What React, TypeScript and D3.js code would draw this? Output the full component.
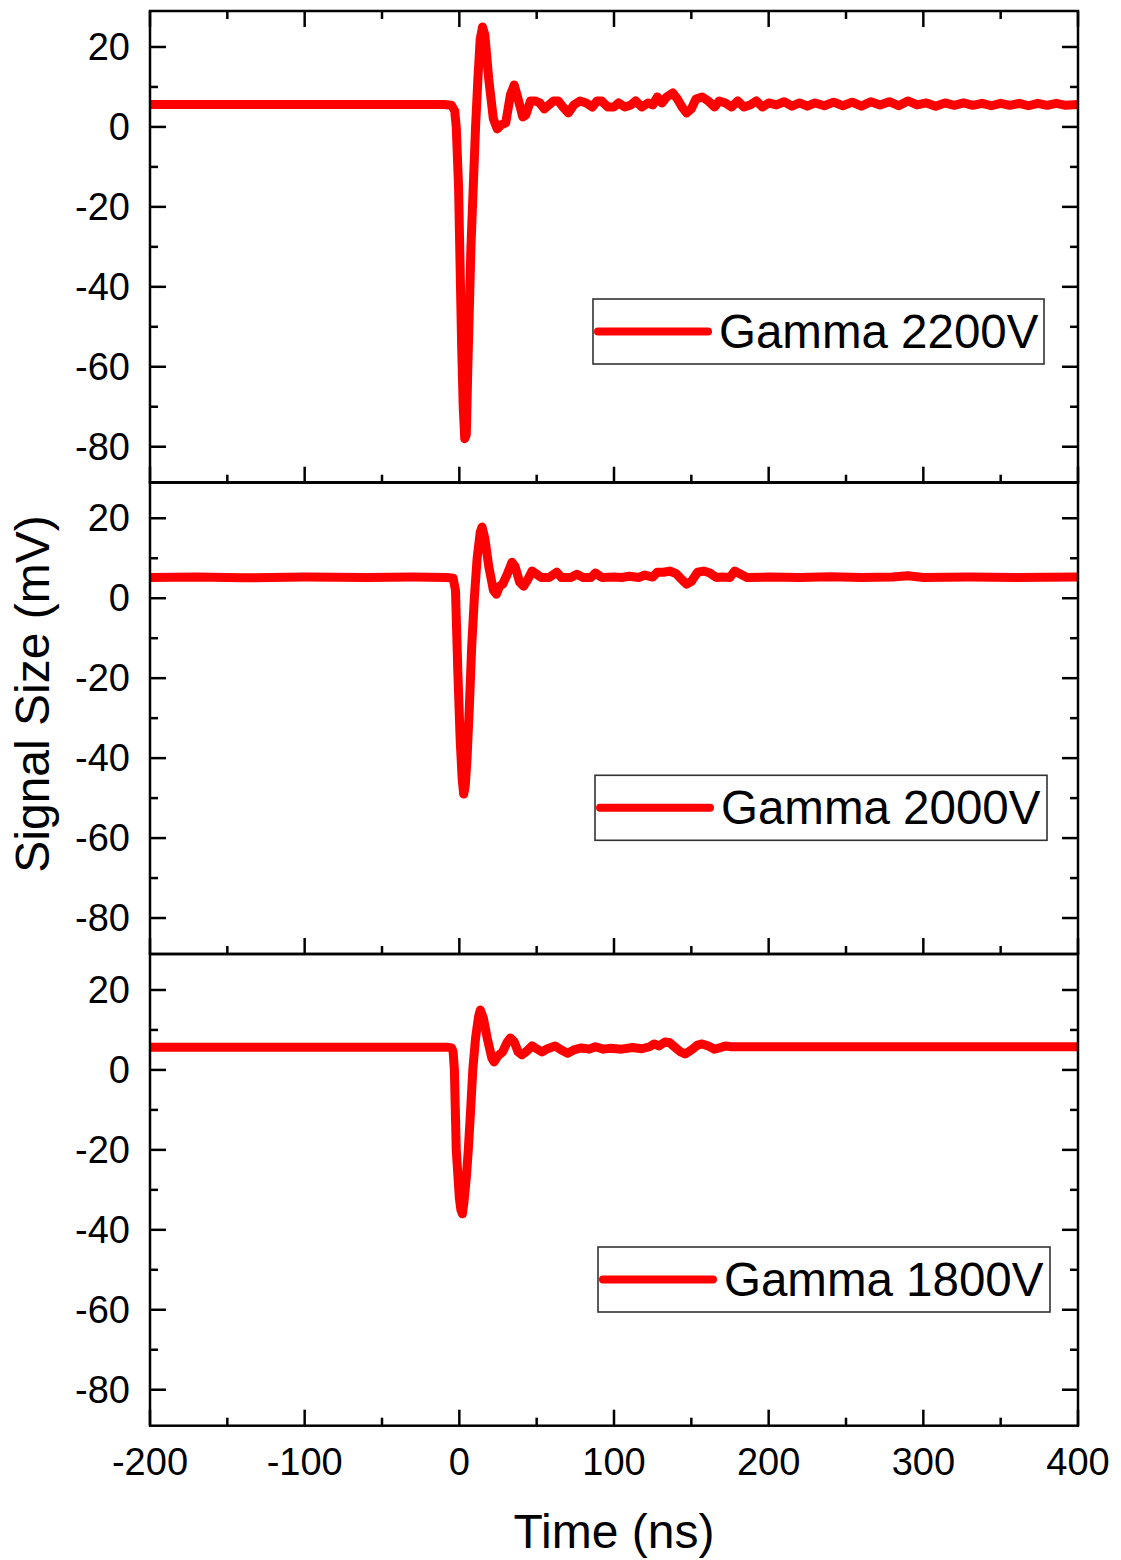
import React from "react";
import * as d3 from "d3";

// ---------- data ----------
const seriesLabels = ["Gamma 2200V", "Gamma 2000V", "Gamma 1800V"];

const gamma2200: [number, number][] = [
  [-200, 5.6], [-10, 5.6], [-5, 5.4], [-3, 4], [-2, 0], [-0.5, -15], [0.5, -35], [1.5, -55],
  [2.5, -70], [3.5, -78], [4.5, -77], [5.5, -60], [6.5, -45], [7.5, -30], [9, -15], [10.5, 0],
  [12, 12], [13.5, 22], [15, 25], [16.5, 23], [19, 12], [22, 2], [24.5, -0.5], [27, 0.5],
  [30, 1], [33, 8], [35.5, 10.5], [38, 7], [41, 2.5], [43, 3], [46, 6.5], [49, 6.5],
  [52, 6], [55, 4.5], [58, 5.5], [61, 6.5], [64, 6.5], [67, 5], [70.5, 3.5], [74, 5.5],
  [78, 6.5], [82, 6], [86, 5], [89, 6.5], [92, 6.5], [96, 5], [100, 5], [103, 6],
  [107, 5], [111, 5.5], [114, 6.5], [118, 5], [122, 6], [125, 5.5], [128, 7.5], [131, 6],
  [134, 7.5], [138, 8.5], [141, 7], [144, 5], [147, 3.5], [150, 4.5], [153, 7], [157, 7.5],
  [161, 6.5], [165, 5], [168, 6.5], [172, 6], [176, 5], [180, 6.5], [184, 5], [188, 5.5],
  [192, 6.5], [196, 5], [200, 6], [205, 5.5], [210, 6.3], [215, 5.2], [220, 6], [225, 5.2],
  [230, 6], [236, 5.3], [242, 6.2], [248, 5.3], [254, 6.2], [260, 5.2], [266, 6.3], [272, 5.5],
  [278, 6.3], [284, 5.3], [290, 6.5], [296, 5.5], [302, 6], [308, 5.2], [314, 6], [320, 5.4],
  [326, 6], [332, 5.4], [338, 5.9], [344, 5.3], [350, 5.9], [356, 5.4], [362, 5.9], [368, 5.3],
  [374, 5.9], [380, 5.4], [386, 5.9], [392, 5.4], [400, 5.6],
];

const gamma2000: [number, number][] = [
  [-200, 5.2], [-170, 5.3], [-140, 5.1], [-100, 5.3], [-60, 5.2], [-30, 5.3], [-8, 5.2], [-4, 5.0],
  [-2.5, 2], [-1, -18], [0.5, -35], [1.8, -45], [2.8, -49], [3.8, -47], [5, -40], [6.5, -27],
  [8, -12], [9.7, 0], [11.5, 10], [13.5, 16.5], [14.7, 17.8], [16.5, 15], [19, 8], [22, 2],
  [24, 1], [26, 3], [28, 3.5], [31, 6], [34, 9], [36, 8], [39, 4], [41.5, 3],
  [44, 4.5], [47, 6.8], [50, 6], [53, 5.2], [58, 5.2], [63, 6.5], [66, 5.2], [72, 5.2],
  [76, 6], [80, 5.2], [85, 5.2], [88, 6.3], [92, 5.2], [100, 5.3], [105, 5.2], [110, 5.5],
  [116, 5.2], [120, 5.8], [125, 5.3], [128, 6.5], [132, 6.5], [136, 6.8], [140, 6.2], [143, 5],
  [147, 3.5], [150, 4.2], [154, 6.5], [158, 6.8], [162, 6.3], [166, 5.2], [170, 5.3], [175, 5.2],
  [178, 6.8], [182, 6], [186, 5.2], [200, 5.3], [220, 5.2], [240, 5.4], [260, 5.2], [280, 5.3],
  [290, 5.6], [300, 5.2], [330, 5.3], [360, 5.2], [400, 5.3],
];

const gamma1800: [number, number][] = [
  [-200, 5.7], [-8, 5.7], [-5, 5.5], [-4, 4.5], [-3.2, 0], [-2, -20], [0, -32], [1, -35],
  [2, -36], [3, -33], [4.5, -27], [5.8, -20], [7.3, -10], [8.7, 0], [10.5, 8], [12.5, 13.5],
  [13.6, 15], [15.5, 13], [18, 8], [21, 3], [22.5, 2], [25, 3.5], [28, 4.5], [31, 7],
  [33, 8], [35.5, 7], [38, 4.5], [40.5, 3.8], [43, 4.5], [47, 6], [50, 5.3], [53.5, 4.5],
  [57, 5.3], [62, 6], [66, 5], [70, 4.2], [74, 5], [79, 5.5], [84, 5.2], [88, 5.8],
  [93, 5.2], [98, 5.4], [105, 5.2], [112, 5.6], [118, 5.3], [123, 5.8], [126, 6.5], [129, 6],
  [133, 7], [136, 6.8], [140, 5.5], [143, 4.5], [146, 4], [150, 5], [154, 6.2], [157, 6.5],
  [161, 6], [165, 5.2], [168, 5.5], [172, 6], [176, 5.8], [181, 5.8], [400, 5.8],
];

const allSeries = [gamma2200, gamma2000, gamma1800];

const xDomain: [number, number] = [-200, 400];
const yDomain: [number, number] = [-89, 29];
const xMajorTicks = [-200, -100, 0, 100, 200, 300, 400];
const xMinorTicks = [-150, -50, 50, 150, 250, 350];
const yMajorTicks = [20, 0, -20, -40, -60, -80];
const yMinorTicks = [10, -10, -30, -50, -70];

// ---------- layout ----------
const W = 1121;
const H = 1560;
const left = 150;
const right = 1078;
const panelTops = [11, 482.3, 954];
const panelH = 471.7;
const legendLayout = [
  { x: 593, dy: 288, w: 451, h: 65 },
  { x: 595, dy: 293, w: 452, h: 65 },
  { x: 598, dy: 293, w: 452, h: 65 },
];
const FONT = "'Liberation Sans', Arial, sans-serif";
const RED = "#ff0000";

export default function App() {
  const x = d3.scaleLinear().domain(xDomain).range([left, right]);

  return (
    <div style={{ position: "absolute", left: 0, top: 0 }}>
      <svg width={W} height={H} viewBox={`0 0 ${W} ${H}`} style={{ display: "block", background: "#fff" }}>
        <rect x={0} y={0} width={W} height={H} fill="#fff" />
        {allSeries.map((data, i) => {
          const top = panelTops[i];
          const bottom = top + panelH;
          const y = d3.scaleLinear().domain(yDomain).range([bottom, top]);
          const line = d3
            .line<[number, number]>()
            .x((d) => x(d[0]))
            .y((d) => y(d[1]));
          const lg = legendLayout[i];
          const ly = top + lg.dy;
          return (
            <g key={i}>
              {/* data line */}
              <path d={line(data) || ""} fill="none" stroke={RED} strokeWidth={9} strokeLinejoin="round" />
              {/* frame */}
              <rect x={left} y={top} width={right - left} height={panelH} fill="none" stroke="#000" strokeWidth={2.5} />
              {/* y ticks left & right */}
              {yMajorTicks.map((t) => (
                <g key={"ym" + t}>
                  <line x1={left} x2={left + 16} y1={y(t)} y2={y(t)} stroke="#000" strokeWidth={2.5} />
                  <line x1={right} x2={right - 16} y1={y(t)} y2={y(t)} stroke="#000" strokeWidth={2.5} />
                  <text x={130} y={y(t) + 13} textAnchor="end" fontFamily={FONT} fontSize={38} fill="#000">
                    {t}
                  </text>
                </g>
              ))}
              {yMinorTicks.map((t) => (
                <g key={"yn" + t}>
                  <line x1={left} x2={left + 8} y1={y(t)} y2={y(t)} stroke="#000" strokeWidth={2.5} />
                  <line x1={right} x2={right - 8} y1={y(t)} y2={y(t)} stroke="#000" strokeWidth={2.5} />
                </g>
              ))}
              {/* x ticks bottom (inward) */}
              {xMajorTicks.map((t) => (
                <line key={"xb" + t} x1={x(t)} x2={x(t)} y1={bottom} y2={bottom - 16} stroke="#000" strokeWidth={2.5} />
              ))}
              {xMinorTicks.map((t) => (
                <line key={"xbn" + t} x1={x(t)} x2={x(t)} y1={bottom} y2={bottom - 8} stroke="#000" strokeWidth={2.5} />
              ))}
              {/* x ticks top only on the first panel */}
              {i === 0 &&
                xMajorTicks.map((t) => (
                  <line key={"xt" + t} x1={x(t)} x2={x(t)} y1={top} y2={top + 16} stroke="#000" strokeWidth={2.5} />
                ))}
              {i === 0 &&
                xMinorTicks.map((t) => (
                  <line key={"xtn" + t} x1={x(t)} x2={x(t)} y1={top} y2={top + 8} stroke="#000" strokeWidth={2.5} />
                ))}
              {/* legend */}
              <rect x={lg.x} y={ly} width={lg.w} height={lg.h} fill="#fff" stroke="#333" strokeWidth={1.6} />
              <line x1={lg.x + 5} x2={lg.x + 115} y1={ly + lg.h / 2} y2={ly + lg.h / 2} stroke={RED} strokeWidth={8} strokeLinecap="round" />
              <text x={lg.x + 126} y={ly + lg.h / 2 + 16} fontFamily={FONT} fontSize={47.5} fill="#000">
                {seriesLabels[i]}
              </text>
            </g>
          );
        })}
        {/* x tick labels */}
        {xMajorTicks.map((t) => (
          <text key={"xl" + t} x={x(t)} y={panelTops[2] + panelH + 49} textAnchor="middle" fontFamily={FONT} fontSize={38} fill="#000">
            {t}
          </text>
        ))}
        <text x={(left + right) / 2} y={1548} textAnchor="middle" fontFamily={FONT} fontSize={48} fill="#000">
          Time (ns)
        </text>
        <text
          transform={`translate(49, 694) rotate(-90)`}
          textAnchor="middle"
          fontFamily={FONT}
          fontSize={48}
          fill="#000"
        >
          Signal Size (mV)
        </text>
      </svg>
    </div>
  );
}
